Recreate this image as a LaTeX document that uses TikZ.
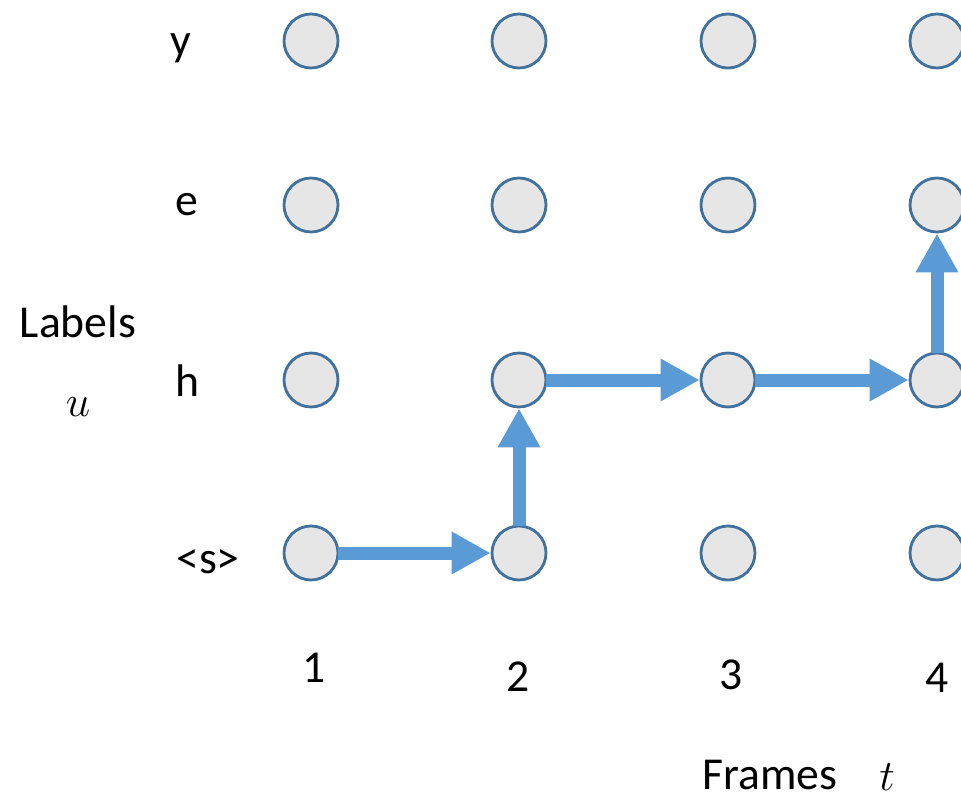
\documentclass[tikz,border=0pt]{standalone}
\usepackage{fontspec}
\setmainfont{Carlito}
\usepackage{tikz}
\usetikzlibrary{arrows.meta, positioning}
\definecolor{statecolor}{RGB}{231,230,230}
\definecolor{borderblue}{RGB}{65,113,156}
\definecolor{pathblue}{RGB}{91,155,213}

\begin{document}
\begin{tikzpicture}[
    x=0.02cm, y=-0.02cm,
    state/.style={circle, draw=borderblue, fill=statecolor, line width=1.6pt, minimum size=1.08cm, inner sep=0pt},
    lab/.style={font=\fontsize{26}{30}\selectfont},
    arrow/.style={draw=pathblue, line width=0.26cm, -{Triangle[length=0.78cm, width=0.8cm]}, shorten <=-1pt}
]
    \useasboundingbox (0,0) rectangle (961,801);

    % Row y
    \node[state] (y1) at (311,41) {};
    \node[state] (y2) at (519,41) {};
    \node[state] (y3) at (728,41) {};
    \node[state] (y4) at (937,41) {};

    % Row e
    \node[state] (e1) at (311,205) {};
    \node[state] (e2) at (519,205) {};
    \node[state] (e3) at (728,205) {};
    \node[state] (e4) at (937,205) {};

    % Row h
    \node[state] (h1) at (311,380) {};
    \node[state] (h2) at (519,380) {};
    \node[state] (h3) at (728,380) {};
    \node[state] (h4) at (937,380) {};

    % Row <s>
    \node[state] (s1) at (311,553) {};
    \node[state] (s2) at (519,553) {};
    \node[state] (s3) at (728,553) {};
    \node[state] (s4) at (937,553) {};

    % Row labels
    \node[lab] (ylab) at (181,48) {y};
    \node[lab] (elab) at (187,205) {e};
    \node[lab] (hlab) at (187,381) {h};
    \node[lab] (slab) at (208,562) {<s>};

    % Frame numbers
    \node[lab] (t1) at (314,668) {1};
    \node[lab] (t2) at (518,677) {2};
    \node[lab] (t3) at (731,675) {3};
    \node[lab] (t4) at (937,678) {4};

    % Axis titles
    \node[lab] (labels) at (78,322) {Labels};
    \node[lab] (uvar) at (78,407) {$u$};
    \node[lab] (frames) at (770,775) {Frames};
    \node[lab] (tvar) at (887,777) {$t$};

    % Alignment path
    \draw[arrow] (s1) -- (s2);
    \draw[arrow] (s2) -- (h2);
    \draw[arrow] (h2) -- (h3);
    \draw[arrow] (h3) -- (h4);
    \draw[arrow] (h4) -- (e4);

\end{tikzpicture}
\end{document}
